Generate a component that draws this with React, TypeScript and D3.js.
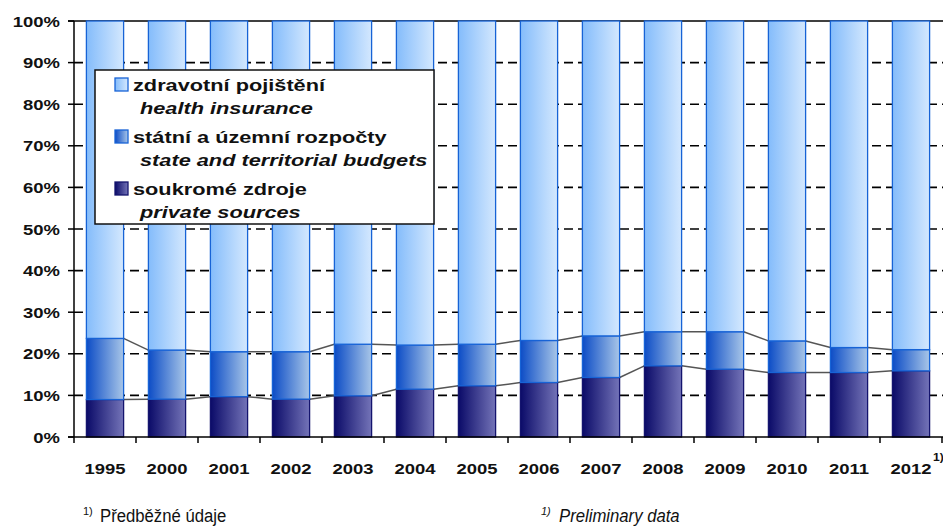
import React from "react";
import * as d3 from "d3";

const years = ["1995", "2000", "2001", "2002", "2003", "2004", "2005", "2006", "2007", "2008", "2009", "2010", "2011", "2012"];
const privateSources = [9.0, 9.1, 9.7, 9.1, 9.9, 11.5, 12.3, 13.1, 14.3, 17.1, 16.3, 15.5, 15.5, 15.9];
const stateBudgets = [14.7, 11.8, 10.8, 11.4, 12.4, 10.6, 10.0, 10.1, 10.0, 8.2, 9.0, 7.6, 6.0, 5.1];
const healthInsurance = years.map((_, i) => +(100 - privateSources[i] - stateBudgets[i]).toFixed(1));
const yTicks = [0, 10, 20, 30, 40, 50, 60, 70, 80, 90, 100];

const seriesKeys = ["private", "state", "health"];
const legendItems = [
  { key: "health", cz: "zdravotní pojištění", en: "health insurance" },
  { key: "state", cz: "státní a územní rozpočty", en: "state and territorial budgets" },
  { key: "private", cz: "soukromé zdroje", en: "private sources" },
];

const W = 943, H = 527;
const X0 = 74, X1 = 942, Y0 = 437, Y1 = 21;
const FONT = "'Liberation Sans', Arial, sans-serif";

const strokeFor: Record<string, string> = { health: "#1763d6", state: "#1763d6", private: "#14146e" };

export default function App() {
  const rows = years.map((y, i) => ({ year: y, private: privateSources[i], state: stateBudgets[i], health: healthInsurance[i] }));
  const stacked = d3.stack<any>().keys(seriesKeys)(rows);
  const x = d3.scaleBand<string>().domain(years).range([X0, X1]).paddingInner(0.4).paddingOuter(0.2);
  const y = d3.scaleLinear().domain([0, 100]).range([Y0, Y1]);
  const step = x.step();
  const bw = x.bandwidth();

  const connectors = (layerIdx: number) => {
    const layer = stacked[layerIdx];
    const segs: JSX.Element[] = [];
    for (let i = 0; i < years.length - 1; i++) {
      const a = layer[i][1], b = layer[i + 1][1];
      segs.push(
        <line key={`c${layerIdx}-${i}`} x1={(x(years[i]) as number) + bw} y1={y(a)} x2={x(years[i + 1]) as number} y2={y(b)} stroke="#555" strokeWidth={1.5} />
      );
    }
    return segs;
  };

  return (
    <svg width={W} height={H} style={{ position: "absolute", left: 0, top: 0, background: "#fff" }} fontFamily={FONT}>
      <defs>
        <linearGradient id="g-health" x1="0" x2="1" y1="0" y2="0">
          <stop offset="0" stopColor="#84bcfb" />
          <stop offset="1" stopColor="#d4e8fe" />
        </linearGradient>
        <linearGradient id="g-state" x1="0" x2="1" y1="0" y2="0">
          <stop offset="0" stopColor="#0c4cc6" />
          <stop offset="1" stopColor="#a8c6e8" />
        </linearGradient>
        <linearGradient id="g-private" x1="0" x2="1" y1="0" y2="0">
          <stop offset="0" stopColor="#0a0a68" />
          <stop offset="1" stopColor="#7474b8" />
        </linearGradient>
      </defs>

      {/* dashed gridlines */}
      {yTicks.filter(t => t > 0 && t < 100).map(t => (
        <line key={`g${t}`} x1={X0} x2={W} y1={y(t)} y2={y(t)} stroke="#000" strokeWidth={1.6} strokeDasharray="9,5" />
      ))}
      {/* top solid line */}
      <line x1={X0 - 6} x2={W} y1={y(100)} y2={y(100)} stroke="#000" strokeWidth={1.5} />

      {/* connectors */}
      {connectors(0)}
      {connectors(1)}

      {/* bars */}
      {stacked.map(layer => (
        <g key={layer.key}>
          {layer.map((d, i) => (
            <rect key={i} x={x(years[i])} y={y(d[1])} width={bw} height={y(d[0]) - y(d[1])}
              fill={`url(#g-${layer.key})`} stroke={strokeFor[layer.key]} strokeWidth={1.3} />
          ))}
        </g>
      ))}

      {/* axes */}
      <line x1={X0} x2={X0} y1={Y1} y2={Y0 + 6} stroke="#000" strokeWidth={1.5} />
      <line x1={X0 - 6} x2={W} y1={Y0} y2={Y0} stroke="#000" strokeWidth={1.5} />
      {yTicks.map(t => (
        <line key={`yt${t}`} x1={X0 - 6} x2={X0} y1={y(t)} y2={y(t)} stroke="#000" strokeWidth={1.5} />
      ))}
      {years.map((_, i) => (
        <line key={`xt${i}`} x1={X0 + step * (i + 1)} x2={X0 + step * (i + 1)} y1={Y0} y2={Y0 + 6} stroke="#000" strokeWidth={1.5} />
      ))}

      {/* y labels */}
      {yTicks.map(t => (
        <text key={`yl${t}`} transform={`translate(60,${y(t) + 5.5}) scale(1.23,1)`} textAnchor="end" fontSize={15} fontWeight="bold" fill="#111">{t}%</text>
      ))}
      {/* x labels */}
      {years.map(yr => (
        <text key={`xl${yr}`} transform={`translate(${(x(yr) as number) + bw / 2},474) scale(1.23,1)`} textAnchor="middle" fontSize={15} fontWeight="bold" fill="#111">{yr}</text>
      ))}
      <text transform={`translate(${(x("2012") as number) + bw / 2 + 22},461) scale(1.1,1)`} fontSize={11} fontWeight="bold" fill="#111">1)</text>

      {/* legend */}
      <rect x={95} y={70} width={339} height={154} fill="#fff" stroke="#111" strokeWidth={1.5} />
      {legendItems.map((it, i) => {
        const top = 78 + i * 52;
        return (
          <g key={it.key}>
            <rect x={115} y={top} width={13} height={13} fill={`url(#g-${it.key})`} stroke={strokeFor[it.key]} strokeWidth={1.3} />
            <text transform={`translate(133,${top + 13}) scale(1.36,1)`} fontSize={16} fontWeight="bold" fill="#111">{it.cz}</text>
            <text transform={`translate(140,${top + 36}) scale(1.36,1)`} fontSize={16} fontWeight="bold" fontStyle="italic" fill="#111">{it.en}</text>
          </g>
        );
      })}

      {/* footnotes */}
      <text x={83} y={515} fontSize={11} fill="#111">1)</text>
      <text transform="translate(100,522) scale(0.88,1)" fontSize={19} fill="#111">Předběžné údaje</text>
      <text x={541} y={515} fontSize={11} fontStyle="italic" fill="#111">1)</text>
      <text transform="translate(559,522) scale(0.88,1)" fontSize={19} fontStyle="italic" fill="#111">Preliminary data</text>
    </svg>
  );
}
